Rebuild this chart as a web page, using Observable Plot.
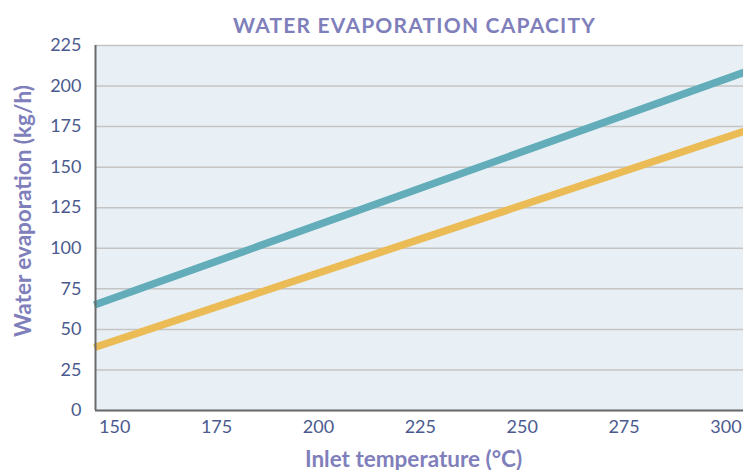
<!DOCTYPE html>
<html><head><meta charset="utf-8">
<script src="https://cdn.jsdelivr.net/npm/d3@7"></script>
<script src="https://cdn.jsdelivr.net/npm/@observablehq/plot@0.6"></script>
<style>
body{margin:0;background:#fff;font-family:Lato,"Open Sans",sans-serif;}
#title{height:44px;line-height:50px;text-align:center;padding-left:86px;color:#7f80bb;font-weight:bold;font-size:21px;letter-spacing:1.2px;box-sizing:border-box;}
svg{display:block;overflow:visible}
g[aria-label="y-axis label"] text,g[aria-label="x-axis label"] text{font-size:22.5px;font-weight:bold;fill:#7f80bb;}
g[aria-label="y-axis tick label"] text,g[aria-label="x-axis tick label"] text{font-size:18px;fill:#4b5a8e;}
</style></head>
<body>
<div id="title">WATER EVAPORATION CAPACITY</div>
<div id="chart"></div>
<script>
const temps = [145, 305];
const seriesNames = ["Upper", "Lower"];
const upperValues = [65, 209];
const lowerValues = [38.8, 172.6];
const xTicks = [150, 175, 200, 225, 250, 275, 300];
const yTicks = [0, 25, 50, 75, 100, 125, 150, 175, 200, 225];
const colors = ["#62adb9", "#ebbb55"];

const data = [];
temps.forEach((t, i) => {
  data.push({t, v: upperValues[i], s: seriesNames[0]});
  data.push({t, v: lowerValues[i], s: seriesNames[1]});
});

const plot = Plot.plot({
  width: 743,
  height: 426,
  marginLeft: 95,
  marginRight: 0,
  marginTop: 1,
  marginBottom: 60,
  style: {fontFamily: "Lato, 'Open Sans', sans-serif", background: "transparent"},
  x: {domain: [145.3, 304.3]},
  y: {domain: [0, 225]},
  color: {domain: seriesNames, range: colors},
  marks: [
    Plot.frame({fill: "#e8f0f6", stroke: null}),
    Plot.gridY(yTicks, {stroke: "#c4c4c4", strokeOpacity: 1, strokeWidth: 1.5}),
    Plot.lineY(data, {x: "t", y: "v", stroke: "s", z: "s", strokeWidth: 7.5, strokeLinecap: "butt"}),
    Plot.axisY(yTicks, {tickSize: 0, tickPadding: 14, label: "Water evaporation (kg/h)", labelAnchor: "center", labelArrow: "none", labelOffset: 80}),
    Plot.axisX(xTicks, {tickSize: 0, tickPadding: 10, label: "Inlet temperature (°C)", labelAnchor: "center", labelArrow: "none", labelOffset: 56}),
    Plot.ruleX([145.3], {stroke: "#6b6b6b", strokeWidth: 2}),
    Plot.ruleY([0], {stroke: "#6b6b6b", strokeWidth: 2})
  ]
});
document.getElementById("chart").appendChild(plot);
d3.select(plot).select('g[aria-label="y-axis label"] text').attr("dx", 17);
d3.select(plot).select('g[aria-label="x-axis label"] text').attr("dx", -6);
</script>
</body></html>
